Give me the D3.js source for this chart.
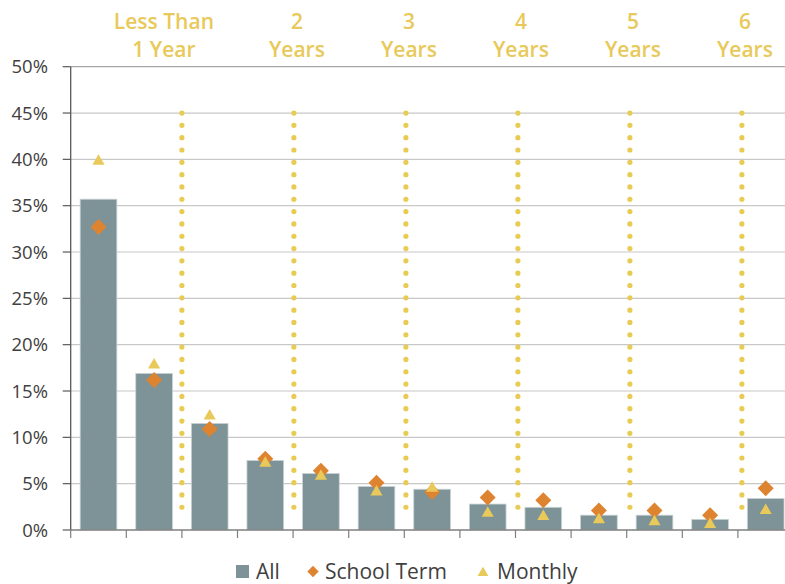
<!DOCTYPE html>
<html><head><meta charset="utf-8">
<script src="https://cdn.jsdelivr.net/npm/d3@7/dist/d3.min.js"></script>
<style>body{margin:0;background:#fff}svg{display:block}</style>
</head><body>
<svg id="c" width="785" height="584"></svg>
<script>
const categories = ["1","2","3","4","5","6","7","8","9","10","11","12","13"];
const allValues = [35.7,16.9,11.5,7.5,6.1,4.7,4.4,2.8,2.45,1.6,1.6,1.15,3.4];
const schoolTerm = [32.7,16.2,10.9,7.7,6.4,5.1,4.1,3.5,3.2,2.1,2.1,1.6,4.5];
const monthly = [39.8,17.8,12.3,7.2,5.8,4.1,4.5,1.8,1.45,1.1,0.9,0.6,2.1];
const yTicks = [0,5,10,15,20,25,30,35,40,45,50];
const dividerIndex = [2,4,6,8,10,12];
const groupLabels = [["Less Than","1 Year"],["2","Years"],["3","Years"],["4","Years"],["5","Years"],["6","Years"]];
const legendItems = ["All","School Term","Monthly"];

const svg = d3.select("#c");
const x0 = 70.7, step = 55.6;
const x = d3.scaleBand().domain(categories).range([x0, x0 + step*categories.length]).paddingInner(0.34).paddingOuter(0.17);
const y = d3.scaleLinear().domain([0,50]).range([530, 66.7]);
const bnd = k => x0 + k * x.step();
// divider series sits on a slightly wider secondary x scale
const xd = d3.scaleLinear().domain([2,12]).range([bnd(2), bnd(12) + 4]);

// gridlines
svg.append("g").selectAll("line").data(yTicks.filter(d=>d>0)).join("line")
  .attr("x1", x0).attr("x2", 785).attr("y1", d=>y(d)).attr("y2", d=>y(d))
  .attr("stroke", d=> d===50 ? "#a6a6a6" : "#c8c8c8").attr("stroke-width", 1.2);

// bars
svg.append("g").selectAll("rect").data(allValues).join("rect")
  .attr("x", (d,i)=>x(categories[i])).attr("width", x.bandwidth())
  .attr("y", d=>y(d)).attr("height", d=>y(0)-y(d))
  .attr("fill", "#7d9397").attr("stroke","#c9d3d5").attr("stroke-width",0.8);

// dotted dividers
svg.append("g").selectAll("line").data(dividerIndex).join("line")
  .attr("x1", d=>xd(d)).attr("x2", d=>xd(d))
  .attr("y1", y(45)).attr("y2", y(1.2))
  .attr("stroke", "#e8cb52").attr("stroke-width", 5.2)
  .attr("stroke-linecap","round").attr("stroke-dasharray","0 12.32");

// y axis
const ya = svg.append("g");
ya.append("line").attr("x1",x0).attr("x2",x0).attr("y1",y(50)).attr("y2",y(0)).attr("stroke","#595959").attr("stroke-width",1.3);
ya.selectAll("line.t").data(yTicks).join("line").attr("class","t")
  .attr("x1",x0-8).attr("x2",x0).attr("y1",d=>y(d)).attr("y2",d=>y(d)).attr("stroke","#595959").attr("stroke-width",1.2);
ya.selectAll("text").data(yTicks).join("text")
  .attr("x",48).attr("y",d=>y(d)).attr("dy","0.36em").attr("text-anchor","end")
  .attr("font-family","'Open Sans', sans-serif").attr("font-size",18.5).attr("fill","#404040")
  .text(d=>d+"%");

// x axis
const xa = svg.append("g");
xa.append("line").attr("x1",x0).attr("x2",785).attr("y1",y(0)).attr("y2",y(0)).attr("stroke","#7f7f7f").attr("stroke-width",1.3);
xa.selectAll("line.t").data(d3.range(categories.length+1)).join("line").attr("class","t")
  .attr("x1",d=>bnd(d)).attr("x2",d=>bnd(d)).attr("y1",y(0)).attr("y2",y(0)+8).attr("stroke","#7f7f7f").attr("stroke-width",1.2);

// school term diamonds
const diamond = d3.symbol().type(d3.symbolSquare).size(128);
svg.append("g").selectAll("path").data(schoolTerm).join("path")
  .attr("d", diamond)
  .attr("transform",(d,i)=>`translate(${x(categories[i])+x.bandwidth()/2},${y(d)}) rotate(45)`)
  .attr("fill","#de8430");

// monthly triangles
const tri = d3.symbol().type(d3.symbolTriangle).size(64);
svg.append("g").selectAll("path").data(monthly).join("path")
  .attr("d", tri)
  .attr("transform",(d,i)=>`translate(${x(categories[i])+x.bandwidth()/2},${y(d)})`)
  .attr("fill","#e8c95a");

// group labels
const gl = svg.append("g").attr("font-family","'Open Sans', sans-serif").attr("font-weight",600).attr("font-size",21).attr("fill","#e8c95a").attr("text-anchor","middle");
groupLabels.forEach((lines,i)=>{
  const cx = xd(dividerIndex[i]) + (i===0 ? -18 : 3);
  lines.forEach((t,j)=>{
    gl.append("text").attr("x",cx).attr("y",28.5 + j*28.5).text(t);
  });
});

// legend
const lg = svg.append("g").attr("font-family","'Open Sans', sans-serif").attr("font-size",21).attr("fill","#404040");
lg.append("rect").attr("x",236).attr("y",565).attr("width",13).attr("height",13).attr("fill","#7d9397");
lg.append("text").attr("x",256).attr("y",579).text(legendItems[0]);
lg.append("path").attr("d", d3.symbol().type(d3.symbolSquare).size(64)()).attr("transform","translate(313,571.5) rotate(45)").attr("fill","#de8430");
lg.append("text").attr("x",325).attr("y",579).text(legendItems[1]);
lg.append("path").attr("d", d3.symbol().type(d3.symbolTriangle).size(50)()).attr("transform","translate(483,573)").attr("fill","#e8c95a");
lg.append("text").attr("x",497).attr("y",579).text(legendItems[2]);
</script>
</body></html>
